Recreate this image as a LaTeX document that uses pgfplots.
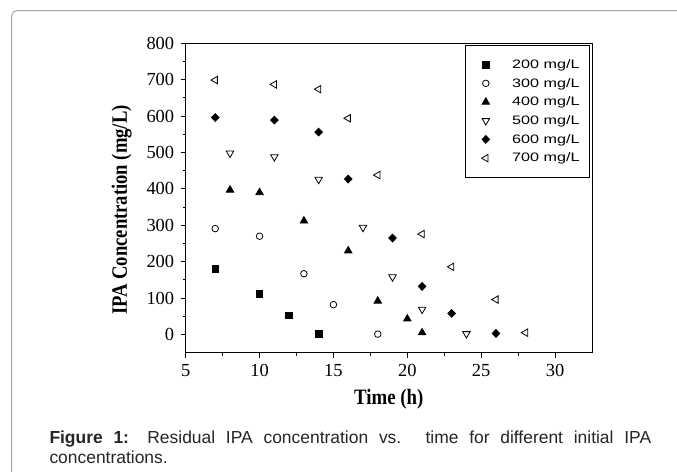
\documentclass[border=0pt]{standalone}
\usepackage{fontspec}
\setmainfont{Liberation Serif}
\newfontfamily\legfont{Liberation Sans}
\newfontfamily\capfont{Liberation Sans}
\usepackage{pgfplots}
\pgfplotsset{compat=1.18}
\newcommand{\lt}[1]{{\legfont\fontsize{12.3}{12.3}\selectfont\scalebox{1.32}[1]{#1}\hspace*{-9bp}}}

\begin{document}
\begin{tikzpicture}
\useasboundingbox (0,0) rectangle (677bp,472bp);
\fill[white] (0,0) rectangle (677bp,472bp);
% page frame (only left and top edges fall inside the picture)
\draw[black!35, line width=1bp, rounded corners=5bp] (11.7bp,-10bp) |- (690bp,461.3bp);

\begin{axis}[
    at={(185.7bp,119.3bp)}, anchor=south west,
    scale only axis,
    width=406.3bp, height=309.4bp,
    xmin=5, xmax=32.5,
    ymin=-50, ymax=800,
    xtick={5,10,...,30},
    ytick={0,100,...,800},
    minor x tick num=1,
    minor y tick num=1,
    tick pos=left,
    tick align=outside,
    major tick length=5bp,
    minor tick length=3bp,
    axis line style={line width=1pt},
    tick style={black, line width=0.9pt},
    /pgf/number format/assume math mode=true,
    ticklabel style={font=\fontsize{18.5}{18.5}\selectfont},
    xticklabel style={yshift=-3bp},
    yticklabel style={xshift=-3bp},
    xlabel={\scalebox{0.86}[1]{\textbf{Time (h)}}},
    ylabel={\scalebox{0.85}[1]{\textbf{IPA Concentration (mg/L)}}},
    label style={font=\fontsize{22}{22}\selectfont},
    xlabel style={at={(axis description cs:0.5,-0.169)}, anchor=base},
    ylabel style={at={(axis description cs:-0.145,0.461)}, anchor=base},
    every axis plot/.append style={only marks, black, line width=0.8pt},
    legend style={at={(0.995,0.9945)}, anchor=north east, draw=black,
        line width=0.8pt,
        inner xsep=16bp, inner ysep=13bp, row sep=6.2bp, column sep=19.5bp,
        nodes={inner xsep=3bp, inner ysep=0pt, text height=10bp, text depth=2.5bp}},
    legend cell align=left,
    legend image code/.code={%
        \draw[only marks] plot coordinates {(0bp,0bp)};},
]
% 200 mg/L
\addplot[mark=square*, mark size=3.3] coordinates {
    (7,180) (10,112) (12,53) (14,2)
};
% 300 mg/L
\addplot[mark=o, mark size=3.3] coordinates {
    (7,291) (10,270) (13,167) (15,82) (18,1)
};
% 400 mg/L
\addplot[mark=triangle*, mark size=4.3] coordinates {
    (8,397) (10,390) (13,312) (16,230) (18,92) (20,43) (21,5)
};
% 500 mg/L
\addplot[mark=triangle, mark size=4.3, mark options={rotate=180}] coordinates {
    (8,498) (11,488) (14,426) (17,294) (19,158) (21,69) (24,2)
};
% 600 mg/L
\addplot[mark=diamond*, mark size=3.9, mark options={xscale=1.3}] coordinates {
    (7,596) (11,589) (14,556) (16,427) (19,265) (21,132) (23,58) (26,3)
};
% 700 mg/L
\addplot[mark=triangle, mark size=4.3, mark options={rotate=90}] coordinates {
    (7,699) (11,687) (14,674) (16,594) (18,438) (21,276) (23,186) (26,96) (28,5)
};
\legend{\lt{200 mg/L}, \lt{300 mg/L}, \lt{400 mg/L}, \lt{500 mg/L}, \lt{600 mg/L}, \lt{700 mg/L}}
\end{axis}

\node[anchor=north west, text width=601.7bp, align=justify, inner sep=0pt,
      text=black!85, font=\capfont\fontsize{17.5}{20}\selectfont]
    at (49.3bp,41.5bp)
    {\textbf{Figure 1:} Residual IPA concentration vs. time for different initial IPA \mbox{concentrations.}};
\end{tikzpicture}
\end{document}
